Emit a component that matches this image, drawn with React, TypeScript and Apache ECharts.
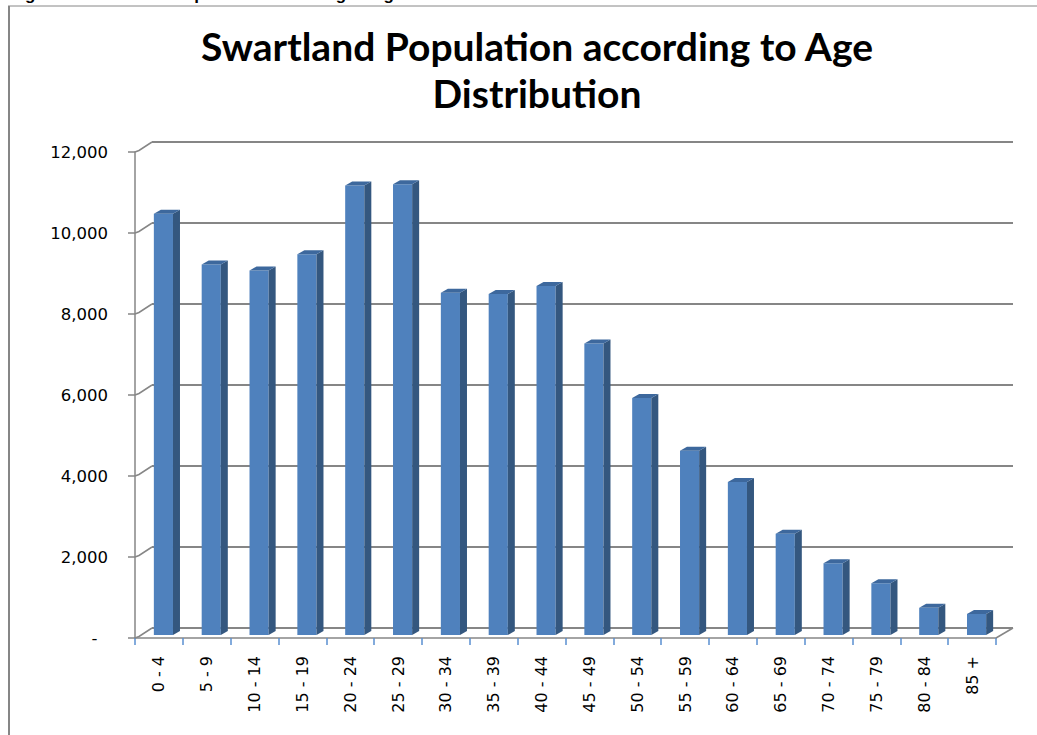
import React, { useEffect, useRef } from "react";
import * as echarts from "echarts";

const categories = ["0 - 4", "5 - 9", "10 - 14", "15 - 19", "20 - 24", "25 - 29", "30 - 34", "35 - 39", "40 - 44", "45 - 49", "50 - 54", "55 - 59", "60 - 64", "65 - 69", "70 - 74", "75 - 79", "80 - 84", "85 +"];
const population = [10400, 9150, 9000, 9400, 11100, 11130, 8450, 8420, 8620, 7200, 5850, 4550, 3780, 2500, 1770, 1280, 670, 520];
const yTicks = [0, 2000, 4000, 6000, 8000, 10000, 12000];
const titleText = "Swartland Population according to Age\nDistribution";
const headerText = "Figure 5: Swartland Population according to Age";

const GRID = "#868686";
const FRONT = "#4F81BD";
const SIDE = "#34577F";
const TOP = "#3D689D";

export default function App() {
  const ref = useRef<HTMLDivElement>(null);
  useEffect(() => {
    const chart = echarts.init(ref.current!, null, { renderer: "svg" });
    const DX = 17, DY = -10;
    chart.setOption({
      animation: false,
      backgroundColor: "#ffffff",
      grid: [
        { left: 135, right: 41, top: 152, bottom: 97 },
        { left: 135 + DX, right: 41 - DX, top: 152 + DY, bottom: 97 - DY },
      ],
      xAxis: [
        {
          type: "category",
          gridIndex: 0,
          data: categories,
          boundaryGap: true,
          axisLine: { show: true, lineStyle: { color: GRID, width: 1.5 } },
          axisTick: { show: true, interval: 0, length: 7, lineStyle: { color: "#5A8FD0", width: 1.5 } },
          axisLabel: { interval: 0, rotate: 90, margin: 18, fontFamily: "DejaVu Sans", fontSize: 16, color: "#000" },
          splitLine: { show: false },
        },
        {
          type: "category",
          gridIndex: 1,
          data: categories,
          show: false,
        },
      ],
      yAxis: [
        {
          type: "value",
          gridIndex: 0,
          min: 0,
          max: 12000,
          interval: 2000,
          axisLine: { show: true, lineStyle: { color: GRID, width: 1.5 } },
          axisTick: { show: true, length: 7, lineStyle: { color: GRID, width: 1.5 } },
          axisLabel: {
            margin: 27,
            fontFamily: "DejaVu Sans",
            fontSize: 16.5,
            color: "#000",
            formatter: (v: number) => (v === 0 ? "-\u00a0\u00a0" : v.toLocaleString("en-US")),
          },
          splitLine: { show: false },
        },
        {
          type: "value",
          gridIndex: 1,
          min: 0,
          max: 12000,
          interval: 2000,
          axisLine: { show: false },
          axisTick: { show: false },
          axisLabel: { show: false },
          splitLine: { show: true, lineStyle: { color: GRID, width: 1.8 } },
        },
      ],
      graphic: [
        { type: "line", shape: { x1: 9, y1: 6, x2: 9, y2: 735 }, style: { stroke: GRID, lineWidth: 2 } },
        { type: "line", shape: { x1: 8, y1: 6, x2: 1037, y2: 6 }, style: { stroke: GRID, lineWidth: 1 } },
        {
          type: "text",
          x: 10,
          y: 3,
          style: { text: headerText, font: "bold 17px 'Liberation Sans'", fill: "#000", textVerticalAlign: "bottom" },
        },
        {
          type: "text",
          x: 537,
          y: 22,
          style: {
            text: titleText,
            font: "bold 39px Lato",
            lineHeight: 47,
            fill: "#000",
            textAlign: "center",
          },
        },
      ],
      series: [
        {
          type: "custom",
          xAxisIndex: 0,
          yAxisIndex: 0,
          data: yTicks.map((v) => [0, v]),
          renderItem: (params: any, api: any) => {
            const v = api.value(1);
            const p = api.coord([0, v]);
            const bw = api.size([1, 0])[0];
            const x0 = p[0] - bw / 2;
            const children: any[] = [
              {
                type: "polyline",
                shape: { points: [[x0, p[1]], [x0 + 4, p[1] - 1.5], [x0 + DX, p[1] + DY]] },
                style: { stroke: GRID, lineWidth: 1.5, fill: "none" },
              },
            ];
            if (v === 0) {
              const pr = api.coord([categories.length - 1, 0]);
              const xr = pr[0] + bw / 2;
              children.push({
                type: "line",
                shape: { x1: xr, y1: pr[1], x2: xr + DX, y2: pr[1] + DY },
                style: { stroke: GRID, lineWidth: 1.5 },
              });
            }
            return { type: "group", children };
          },
          silent: true,
          z: 1,
        },
        {
          type: "custom",
          xAxisIndex: 0,
          yAxisIndex: 0,
          data: population.map((v, i) => [i, v]),
          renderItem: (params: any, api: any) => {
            const i = api.value(0);
            const v = api.value(1);
            const base = api.coord([i, 0]);
            const top = api.coord([i, v]);
            const bw = api.size([1, 0])[0];
            const w = bw * 0.4;
            const ox = 4.5, oy = -3;
            const dx = 7, dy = -4;
            const xl = base[0] + ox - w / 2;
            const xr = xl + w;
            const yb = base[1] + oy;
            const yt = top[1] + oy;
            return {
              type: "group",
              children: [
                { type: "rect", shape: { x: xl, y: yt, width: w, height: yb - yt }, style: { fill: FRONT } },
                {
                  type: "polygon",
                  shape: { points: [[xr, yb], [xr, yt], [xr + dx, yt + dy], [xr + dx, yb + dy]] },
                  style: { fill: SIDE },
                },
                {
                  type: "polygon",
                  shape: { points: [[xl, yt], [xr, yt], [xr + dx, yt + dy], [xl + dx, yt + dy]] },
                  style: { fill: TOP },
                },
              ],
            };
          },
          z: 3,
        },
      ],
    });
    return () => chart.dispose();
  }, []);
  return <div ref={ref} style={{ position: "absolute", left: 0, top: 0, width: 1037, height: 735 }} />;
}
